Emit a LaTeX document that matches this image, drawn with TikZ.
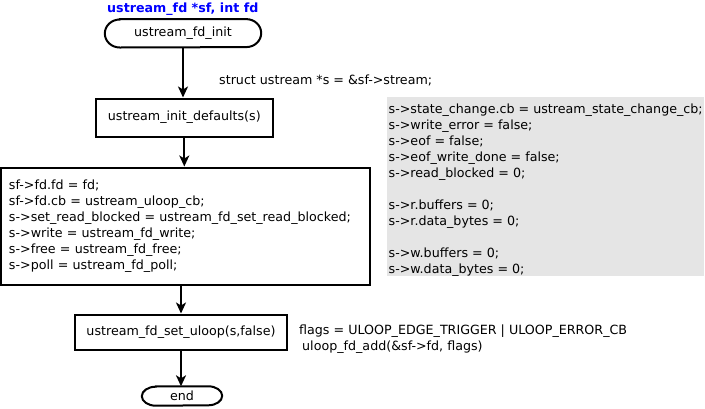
\documentclass[tikz,border=0pt]{standalone}
\usepackage{fontspec}
\setmainfont{DejaVu Sans}
\usetikzlibrary{arrows.meta}
\definecolor{notegray}{RGB}{229,229,229}
\tikzset{
  every node/.style={font=\fontsize{12.67}{16}\selectfont, inner sep=0pt},
  procbox/.style={draw=black, line width=2pt, minimum height=35pt, align=center},
  flowarrow/.style={line width=2pt, -{Stealth[length=11pt,width=10pt,inset=3pt]}},
  plaintext/.style={anchor=base west},
}
\newcommand{\termoutline}[3]{% node, x radius, y radius
  \draw[line width=2pt] ([xshift=#2pt]#1.north west) -- ([xshift=-#2pt]#1.north east)
    arc[start angle=90, end angle=-90, x radius=#2pt, y radius=#3pt]
    -- ([xshift=#2pt]#1.south west)
    arc[start angle=270, end angle=90, x radius=#2pt, y radius=#3pt] -- cycle;}
\begin{document}
\begin{tikzpicture}[x=1pt, y=-1pt]
\useasboundingbox (0,0) rectangle (705,408);

\node[plaintext, text=blue, font=\fontsize{12.67}{16}\selectfont\bfseries] (title) at (107,12.5) {ustream\_fd *sf, int fd};

\node[minimum width=156pt, minimum height=28pt] (start) at (183,33.3) {ustream\_fd\_init};
\termoutline{start}{15}{14}

\node[procbox, minimum width=177pt, minimum height=38pt] (init) at (184.3,117.5) {ustream\_init\_defaults(s)};

\node[plaintext] (structtxt) at (219,84.5) {struct ustream *s = \&sf->stream;};

\node[fill=notegray, anchor=west, minimum width=317pt, minimum height=179pt, inner xsep=1.5pt, align=left] (defaults) at (387,186.5) {%
\rule{0pt}{16pt}s->state\_change.cb = ustream\_state\_change\_cb;\\
s->write\_error = false;\\
s->eof = false;\\
s->eof\_write\_done = false;\\
s->read\_blocked = 0;\\[16pt]
s->r.buffers = 0;\\
s->r.data\_bytes = 0;\\[16pt]
s->w.buffers = 0;\\
s->w.data\_bytes = 0;};

\node[procbox, minimum width=369pt, minimum height=117pt, text width=353pt, inner xsep=8pt, align=left] (fdset) at (185.5,226) {%
sf->fd.fd = fd;\\
sf->fd.cb = ustream\_uloop\_cb;\\
s->set\_read\_blocked = ustream\_fd\_set\_read\_blocked;\\
s->write = ustream\_fd\_write;\\
s->free = ustream\_fd\_free;\\
s->poll = ustream\_fd\_poll;};

\node[procbox, minimum width=212pt, minimum height=35pt] (uloop) at (181,332) {ustream\_fd\_set\_uloop(s,false)};

\node[plaintext, align=left] (flags) at (299,350.5) {flags = ULOOP\_EDGE\_TRIGGER | ULOOP\_ERROR\_CB\\\hspace*{3pt}uloop\_fd\_add(\&sf->fd, flags)};

\node[minimum width=80pt, minimum height=19pt] (end) at (182,396) {end};
\termoutline{end}{14}{9.5}

\draw[flowarrow] (start.south) -- (start.south |- init.north);
\draw[flowarrow] (init.south) -- (init.south |- fdset.north);
\draw[flowarrow] (uloop.north |- fdset.south) -- (uloop.north);
\draw[flowarrow] (uloop.south) -- (uloop.south |- end.north);
\end{tikzpicture}
\end{document}
